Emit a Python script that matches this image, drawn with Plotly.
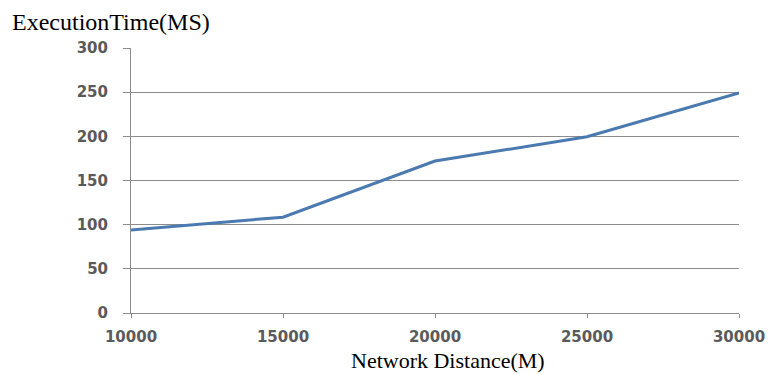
import plotly.graph_objects as go

distance = [10000, 15000, 20000, 25000, 30000]
exec_time = [94, 108.5, 172, 199.5, 249]
y_ticks = [0, 50, 100, 150, 200, 250, 300]
x_ticks = [10000, 15000, 20000, 25000, 30000]

# page body has an 8px margin; the figure is laid out in its own coordinates
W, H = 769, 366
L, R, T, B = 123, 29, 40, 61
PW, PH = W - L - R, H - T - B

tick_font = dict(family="DejaVu Sans", size=15, color="#5a5a5a", weight="bold")

fig = go.Figure()
fig.add_trace(go.Scatter(x=distance, y=exec_time, mode="lines",
                         line=dict(color="#4A7AB0", width=3), showlegend=False))

fig.update_layout(
    width=W, height=H,
    margin=dict(l=L, r=R, t=T, b=B),
    paper_bgcolor="white", plot_bgcolor="white",
    xaxis=dict(range=[10000, 30000], tickvals=x_ticks, ticktext=[str(v) for v in x_ticks],
               showgrid=False, zeroline=False, showline=True, linecolor="#8c8c8c", linewidth=1,
               ticks="outside", ticklen=4, tickcolor="#8c8c8c", ticklabelstandoff=6,
               tickfont=tick_font),
    yaxis=dict(range=[0, 300], tickvals=y_ticks, showgrid=True, gridcolor="#8c8c8c", gridwidth=1,
               zeroline=False, showline=True, linecolor="#8c8c8c", linewidth=1,
               ticks="outside", ticklen=7, tickcolor="#8c8c8c", ticklabelstandoff=12,
               tickfont=tick_font),
    annotations=[
        dict(text="ExecutionTime(MS)", xref="paper", yref="paper", x=0, xshift=2 - L,
             y=1 + 26 / PH, xanchor="left", yanchor="middle", showarrow=False,
             font=dict(family="Liberation Serif", size=24, color="black")),
        dict(text="Network Distance(M)", xref="paper", yref="paper", x=(445 - L) / PW,
             y=-B / PH, xanchor="center", yanchor="bottom", showarrow=False, borderpad=0,
             font=dict(family="Liberation Serif", size=22, color="black")),
    ],
)
fig.write_html("out.html")
